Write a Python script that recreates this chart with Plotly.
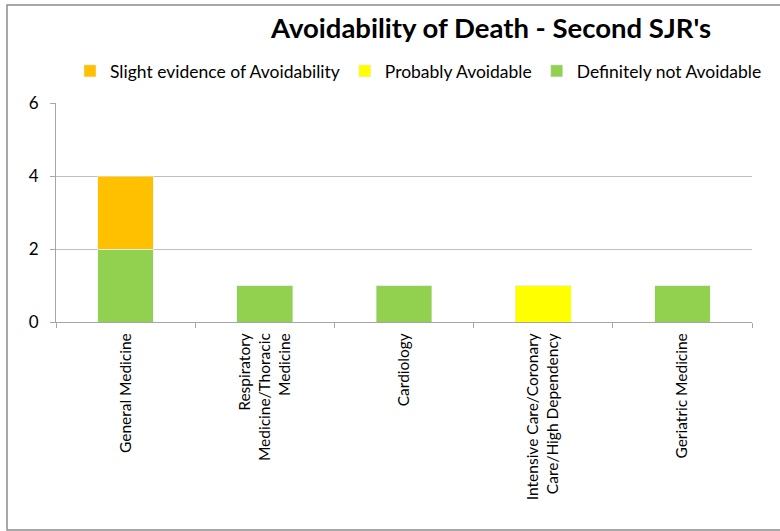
import plotly.graph_objects as go

# Specialties reviewed and the count of deaths in each avoidability grade
categories = [
    "General Medicine",
    "Respiratory<br>Medicine/Thoracic<br>Medicine",
    "Cardiology",
    "Intensive Care/Coronary<br>Care/High Dependency",
    "Geriatric Medicine",
]
definitely_not_avoidable = [2, 1, 1, 0, 1]
probably_avoidable = [0, 0, 0, 1, 0]
slight_evidence = [2, 0, 0, 0, 0]

y_ticks = [0, 2, 4, 6]

FONT = "Lato, 'Open Sans', sans-serif"

# Plot area in pixels (figure is 780x531)
L, R, T, B = 56, 752, 103, 322
W, H = 780, 531

fig = go.Figure()
fig.add_trace(go.Bar(x=categories, y=definitely_not_avoidable,
                     name="Definitely not Avoidable", marker_color="#92D050"))
fig.add_trace(go.Bar(x=categories, y=probably_avoidable,
                     name="Probably Avoidable", marker_color="#FFFF00"))
fig.add_trace(go.Bar(x=categories, y=slight_evidence,
                     name="Slight evidence of Avoidability", marker_color="#FFC000"))


def px_x(p):
    return (p - L) / (R - L)


def px_y(p):
    return (B - p) / (B - T)


# outer chart border
fig.add_shape(type="rect", xref="paper", yref="paper",
              x0=px_x(7), x1=px_x(800), y0=px_y(530), y1=px_y(5),
              line=dict(color="#8c8c8c", width=1.5), fillcolor="rgba(0,0,0,0)",
              layer="below")

fig.update_layout(
    width=W, height=H,
    margin=dict(l=L, r=W - R, t=T, b=H - B, autoexpand=False),
    barmode="stack",
    bargap=0.6,
    paper_bgcolor="white",
    plot_bgcolor="white",
    font=dict(family=FONT, size=13, color="#000000"),
    title=dict(text="<b>Avoidability of Death - Second SJR's</b>",
               x=491 / W, xref="container", xanchor="center",
               y=1 - 28 / H, yref="container", yanchor="middle",
               font=dict(family=FONT, size=27.5, color="#000000")),
    legend=dict(orientation="h", traceorder="reversed",
                x=70 / W, xref="container", xanchor="left",
                y=1 - 71 / H, yref="container", yanchor="middle",
                font=dict(family=FONT, size=17.5, color="#000000"),
                itemwidth=30),
    showlegend=True,
)

fig.update_xaxes(
    showline=True, linecolor="#a6a6a6", linewidth=1,
    ticks="outside", ticklen=5, tickcolor="#a6a6a6",
    tickson="boundaries",
    tickangle=-90,
    ticklabelstandoff=4,
    tickfont=dict(family=FONT, size=15.5, color="#000000"),
    showgrid=False,
)
fig.update_yaxes(
    range=[0, 6], tickvals=y_ticks,
    showline=True, linecolor="#a6a6a6", linewidth=1,
    ticks="outside", ticklen=5, tickcolor="#a6a6a6",
    showgrid=True, gridcolor="#bfbfbf", gridwidth=1,
    zeroline=False,
    ticklabelstandoff=8,
    tickfont=dict(family=FONT, size=17, color="#000000"),
)

fig.write_html("out.html")
